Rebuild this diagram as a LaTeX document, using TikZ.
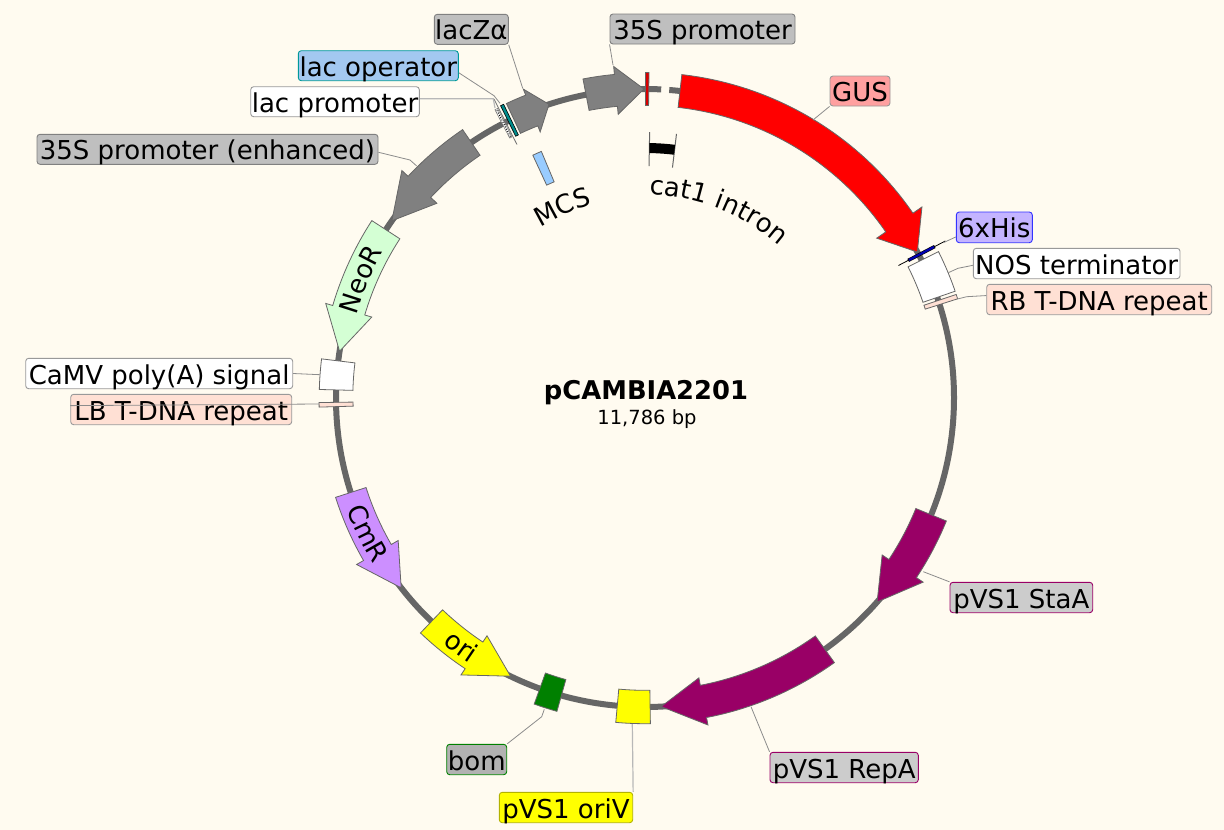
\documentclass[tikz,border=0pt]{standalone}
\usepackage{fontspec}
\setmainfont{DejaVu Sans}
\usetikzlibrary{decorations.text}
\definecolor{bgc}{HTML}{FFFBF0}
\definecolor{bbc}{HTML}{666666}
\definecolor{purp}{HTML}{990066}
\definecolor{yel}{HTML}{FFFF00}
\definecolor{pure}{HTML}{FF0000}
\definecolor{peach}{HTML}{FFE0D4}
\definecolor{gre}{HTML}{008000}
\definecolor{mint}{HTML}{D4FFD4}
\definecolor{lilac}{HTML}{CC8FFF}
\definecolor{sky}{HTML}{99CCFF}
\definecolor{teal2}{HTML}{008C8C}
\newcommand{\ftxt}{\fontsize{26}{30}\selectfont}
\newcommand{\Rr}{309}
\tikzset{
  backbone/.style={draw=bbc,line width=6pt,line cap=butt},
  feat/.style={draw=#1,line width=0.8pt,line join=miter},
  feat/.default=black!60,
  lbl/.style={rectangle,rounded corners=3pt,inner sep=0pt,line width=0.9pt,font=\fontsize{26}{30}\selectfont,text height=21pt,text depth=0pt,align=center},
  conn/.style={draw=black!45,line width=0.8pt},
  connl/.style={draw=black!28,line width=1.2pt},
}
% \farrow{style}{tail}{headbase}{tip}{halfwidth}{headhalfwidth}
\newcommand{\farrow}[6]{\draw[#1] (#2:{\Rr-#5}) arc[start angle=#2,end angle=#3,radius={\Rr-#5}] -- (#3:{\Rr-#6}) -- (#4:\Rr) -- (#3:{\Rr+#6}) -- (#3:{\Rr+#5}) arc[start angle=#3,end angle=#2,radius={\Rr+#5}] -- cycle;}
% \fbx{style}{a1}{a2}{radial half}{radius}
\newcommand{\fbx}[5]{\draw[#1] (#2:{#5-#4}) arc[start angle=#2,end angle=#3,radius={#5-#4}] -- (#3:{#5+#4}) arc[start angle=#3,end angle=#2,radius={#5+#4}] -- cycle;}
% \lab{name}{x1}{y1}{x2}{y2}{style}{text}
\newcommand{\lab}[7]{\node[lbl,#6,minimum width={(#4-#2)*1pt},minimum height={(#5-#3)*1pt}] (#1) at ({(#2+#4)/2},{(#3+#5)/2}) {#7};}
\newcommand{\arctext}[4]{\path[decorate,decoration={text along path,text align={center},text={|\ftxt|#4}}] (#2:#1) arc[start angle=#2,end angle=#3,radius=#1];}
\begin{document}
\begin{tikzpicture}[x=1pt,y=1pt,yscale=-1]
\fill[bgc] (0,0) rectangle (1224,830);
\useasboundingbox (0,0) rectangle (1224,830);
\begin{scope}[shift={(645,398)}]
  \draw[backbone] (-85.5:\Rr) arc[start angle=-85.5,end angle=243.9,radius=\Rr];
  \draw[backbone] (245:\Rr) arc[start angle=245,end angle=273,radius=\Rr];
  % arrows
  \farrow{feat,fill=pure}{-83.5}{-34.6}{-28.2}{16.5}{27.5}
  \farrow{feat,fill=black!50}{-101}{-95.4}{-90.2}{16}{24}
  \farrow{feat,fill=black!50}{244.8}{248.5}{251.9}{16.5}{23}
  \farrow{feat,fill=black!50}{235.8}{223.1}{215}{15.5}{24}
  \farrow{feat,fill=mint}{213}{196.5}{188.7}{16.7}{24}
  \farrow{feat,fill=lilac}{162.2}{150}{142.1}{16}{24}
  \farrow{feat,fill=yel}{133.7}{123.6}{115.8}{16}{23.5}
  \farrow{feat,fill=purp}{54.4}{79.1}{87}{16.4}{24}
  \farrow{feat,fill=purp}{22.2}{33.5}{41.3}{16.5}{24.6}
  % boxes
  \fbx{feat,fill=white}{-26.5}{-19}{17}{311}
  \fbx{feat,fill=peach}{-18.4}{-17.6}{17}{311}
  \fbx{feat,fill=yel}{89.05}{95.15}{16.7}{\Rr}
  \fbx{feat,fill=gre}{105.7}{109.9}{16.5}{\Rr}
  \fbx{feat,fill=white}{181.5}{186.9}{16.8}{\Rr}
  \fbx{feat,fill=peach}{178.4}{179.2}{17}{\Rr}
  % thin marks
  \fbx{feat,fill=red!85!black}{-89.9}{-89.3}{16.5}{\Rr}
  \draw[black,line width=0.8pt] (-27.6:{\Rr-23}) -- (-27.6:{\Rr+30});
  \draw[draw=black,line width=3.4pt] (-27.6:{\Rr-12}) -- (-27.6:{\Rr+18});
  \draw[draw=blue!70!black,line width=2.2pt] (-27.6:{\Rr-11}) -- (-27.6:{\Rr+17});
  \draw[black!55,line width=0.8pt] (243.2:{\Rr-25}) -- (243.2:{\Rr+26});
  \fbx{feat,fill=white,line width=0.5pt}{242.5}{243}{16}{\Rr}
  \draw[black,line width=1pt,dash pattern=on 1pt off 1.6pt] (242.75:{\Rr-15}) -- (242.75:{\Rr+15});
  \fbx{draw=black,line width=0.6pt,fill=teal2}{243.7}{244.3}{17}{\Rr}
  % inside features
  \fbx{feat,fill=sky}{245.2}{247.2}{16.5}{251}
  \draw[black!60,line width=1pt] (-89:232) -- (-89:266);
  \draw[black!60,line width=1pt] (-83.2:232) -- (-83.2:266);
  \draw[black,line width=10pt] (-89:250) arc[start angle=-89,end angle=-83.2,radius=250];
  % texts on arcs
  \arctext{203}{-103.7}{-33.7}{cat1 intron}
  \arctext{200}{226.6}{266.6}{MCS}
  \arctext{300}{187.6}{217.6}{NeoR}
  \arctext{318}{169}{139}{CmR}
  \arctext{318}{141}{112}{ori}
\end{scope}
% feature connection points
\coordinate (pLacZ) at (522.7,88.3);
\coordinate (eLacOp) at (494,95.7);
\coordinate (pLacOp) at (500,103.3);
\coordinate (eLacPr) at (493.3,98.7);
\coordinate (pLacPr) at (495,108);
\coordinate (eEnh) at (410,160);
\coordinate (pEnh) at (416.7,166);
\coordinate (p35S) at (613,65);
\coordinate (pGUS) at (813,120);
\coordinate (pHis) at (943.3,242.7);
\coordinate (eNOS) at (958,268.3);
\coordinate (pNOS) at (948.3,272.7);
\coordinate (eRB) at (966.7,296.7);
\coordinate (pRB) at (957.3,299);
\coordinate (pCaMV) at (320,374.7);
\coordinate (pLB) at (319.3,404);
\coordinate (pSta) at (923.3,571.7);
\coordinate (pRep) at (751,706.7);
\coordinate (eBom) at (541.7,716.7);
\coordinate (pBom) at (544.3,709.3);
\coordinate (pOriV) at (632.3,724);
\lab{lacZ}{434.3}{14.3}{508.3}{44.3}{fill=black!25,draw=black!50}{lacZα}
\lab{lacOp}{298.3}{50.7}{458.3}{80.7}{fill={rgb,255:red,163;green,200;blue,240},draw={rgb,255:red,0;green,153;blue,153}}{lac operator}
\lab{lacPr}{250.7}{86.7}{419.3}{116.7}{fill=white,draw=black!40}{lac promoter}
\lab{enh}{37}{134.3}{378}{164.3}{fill=black!25,draw=black!50}{35S promoter (enhanced)}
\lab{s35}{610}{14}{795}{44}{fill=black!25,draw=black!50}{35S promoter}
\lab{gus}{830}{76}{890}{106}{fill={rgb,255:red,255;green,160;blue,160},draw=black!40}{GUS}
\lab{his}{956.3}{212}{1032.3}{242.7}{fill={rgb,255:red,196;green,180;blue,255},draw={rgb,255:red,51;green,51;blue,255}}{6xHis}
\lab{nos}{973.3}{248.3}{1180}{278.7}{fill=white,draw=black!40}{NOS terminator}
\lab{rb}{986.7}{284.3}{1211.7}{314.7}{fill=peach,draw=black!40}{RB T-DNA repeat}
\lab{camv}{25.7}{358.3}{292.7}{388.7}{fill=white,draw=black!40}{CaMV poly(A) signal}
\lab{lb}{70.7}{394.3}{291.7}{424.7}{fill=peach,draw=black!40}{LB T-DNA repeat}
\lab{sta}{950}{582.3}{1092.7}{612.7}{fill=black!20,draw=purp}{pVS1 StaA}
\lab{rep}{770}{752.3}{918.3}{782.7}{fill=black!20,draw=purp}{pVS1 RepA}
\lab{bom}{446.7}{744.3}{506.7}{774.7}{fill=black!30,draw=gre}{bom}
\lab{oriv}{499.3}{792.3}{632.7}{822.7}{fill=yel,draw=black!30!yel}{pVS1 oriV}
\draw[conn] (lacZ.south east) -- (pLacZ);
\draw[conn] (lacOp.-5) -- (eLacOp) -- (pLacOp);
\draw[connl] (lacPr.2) -- (eLacPr) -- (pLacPr);
\draw[conn] (enh.-1.5) -- (eEnh) -- (pEnh);
\draw[conn] (s35.south west) -- (p35S);
\draw[conn] (gus.south west) -- (pGUS);
\draw[conn] (his.194) -- (pHis);
\draw[conn] (nos.181) -- (eNOS) -- (pNOS);
\draw[conn] (rb.178) -- (eRB) -- (pRB);
\draw[conn] (camv.east) -- (pCaMV);
\draw[conn] (lb.178) -- (pLB);
\draw[conn] (sta.north west) -- (pSta);
\draw[conn] (rep.north west) -- (pRep);
\draw[conn] (bom.north east) -- (eBom) -- (pBom);
\draw[connl] (oriv.north east) -- (pOriV);
% title
\node[inner sep=0pt,font=\bfseries\fontsize{25.8}{30}\selectfont,text height=19pt,text depth=0pt] (title) at (646,390) {pCAMBIA2201};
\node[inner sep=0pt,font=\fontsize{19.5}{24}\selectfont,text height=14pt,text depth=0pt] (size) at (647,417) {11,786 bp};
\end{tikzpicture}
\end{document}
